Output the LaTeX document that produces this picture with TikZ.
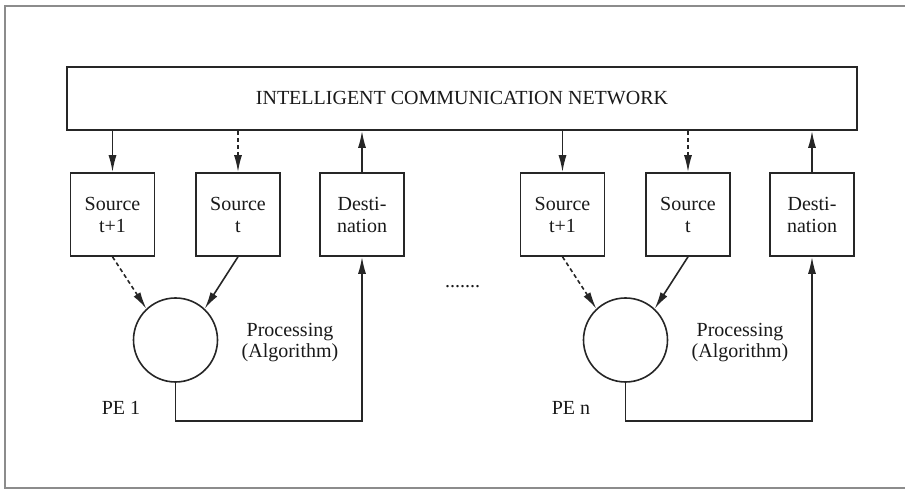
\documentclass[tikz,border=0pt]{standalone}
\usepackage{fontspec}
\setmainfont{Liberation Serif}
\usetikzlibrary{arrows.meta}

\tikzset{
  ink/.style={draw=black!85, line width=0.8pt},
  unitbox/.style={ink, minimum width=42pt, minimum height=41.5pt, inner sep=0pt,
    align=center, font=\fontsize{10}{11}\selectfont, text=black!90},
  pecircle/.style={ink, circle, minimum size=42pt, inner sep=0pt},
  lbl/.style={align=center, font=\fontsize{10}{10.5}\selectfont, text=black!90, inner sep=0pt},
  arr/.style={ink, -{Latex[length=8.5pt,width=4pt]}},
  dsh/.style={dash pattern=on 2pt off 1.5pt},
  frame/.style={draw=black!45, line width=0.6pt}
}

\begin{document}
\begin{tikzpicture}[x=0.5pt,y=-0.5pt]
  \useasboundingbox (0,0) rectangle (905,490);

  % page frame
  \draw[frame] (905,6) -- (5,6) -- (5,488) -- (905,488);

  % shared network
  \node[ink, minimum width=395pt, minimum height=31.5pt, inner sep=0pt,
        font=\fontsize{10}{12}\selectfont, text=black!90] (net) at (462,98.5)
        {INTELLIGENT COMMUNICATION NETWORK};

  % processing elements
  \foreach \o/\n/\p in {0/a/1, 450/b/n} {
    \node[unitbox] (s1\n) at (112.5+\o,214.5) {Source\\t+1};
    \node[unitbox] (s2\n) at (238+\o,214.5) {Source\\t};
    \node[unitbox] (d\n)  at (362+\o,214.5) {Desti-\\nation};
    \node[pecircle] (pe\n) at (175.5+\o,340) {};
    \node[lbl] (proc\n) at (290+\o,342.5) {Processing\\(Algorithm)};
    \node[lbl] (lab\n) at (121+\o,408) {PE \p};
    \coordinate (loop\n) at (362+\o,421);

    \draw[arr] (s1\n.north |- net.south) -- (s1\n.north);
    \draw[arr,dsh] (s2\n.north |- net.south) -- (s2\n.north);
    \draw[arr] (d\n.north) -- (d\n.north |- net.south);
    \draw[arr,dsh] (s1\n.south) -- (pe\n.133);
    \draw[arr] (s2\n.south) -- (pe\n.47);
    \draw[arr] (pe\n.south) |- (loop\n) -- (d\n.south);
  }

  % further elements
  \node[lbl, anchor=base] (more) at (462.5,288) {.......};
\end{tikzpicture}
\end{document}
